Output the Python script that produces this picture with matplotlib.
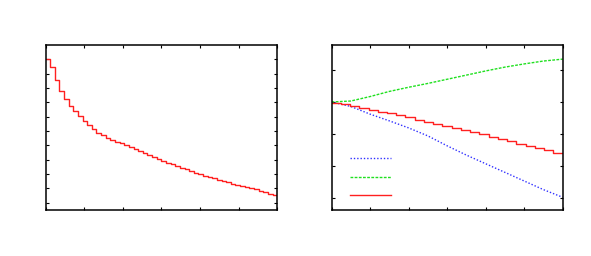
import numpy as np
import matplotlib
matplotlib.use("Agg")
import matplotlib.pyplot as plt

# left panel: staircase, 50 steps over x = 0..6
step_vals = [10.00, 9.44, 8.56, 7.79, 7.21, 6.77, 6.40, 6.05, 5.72, 5.42,
             5.14, 4.89, 4.70, 4.55, 4.41, 4.27, 4.15, 4.03, 3.89, 3.75,
             3.61, 3.48, 3.34, 3.21, 3.07, 2.93, 2.80, 2.68, 2.55, 2.43,
             2.32, 2.21, 2.10, 2.01, 1.90, 1.80, 1.71, 1.61, 1.52, 1.43,
             1.34, 1.25, 1.17, 1.09, 1.00, 0.93, 0.84, 0.74, 0.64, 0.52]

# right panel
curve_x = [0, 0.5, 1, 1.5, 2, 2.5, 3, 3.5, 4, 4.5, 5, 5.5, 6]
blue_y = [0, -0.14, -0.38, -0.59, -0.81, -1.06, -1.37, -1.66, -1.93, -2.20, -2.47, -2.74, -2.98]
green_y = [0, 0.03, 0.17, 0.33, 0.46, 0.58, 0.71, 0.84, 0.97, 1.09, 1.19, 1.28, 1.34]
red_steps = [-0.02, -0.07, -0.13, -0.18, -0.24, -0.30, -0.36, -0.42, -0.48, -0.55,
             -0.62, -0.68, -0.75, -0.81, -0.88, -0.95, -1.01, -1.08, -1.15, -1.23,
             -1.30, -1.37, -1.44, -1.51, -1.59]

fig = plt.figure(figsize=(5.91, 2.56), dpi=100)
ax1 = fig.add_axes([0.077, 0.18, 0.392, 0.644])
ax2 = fig.add_axes([0.561, 0.18, 0.391, 0.644])


def style(ax):
    for s in ax.spines.values():
        s.set_linewidth(1.1)
    ax.tick_params(direction="in", length=2.5, width=0.8, top=True, right=True,
                   labelbottom=False, labelleft=False)


# left
xs = np.linspace(0, 6, len(step_vals) + 1)
ax1.step(xs, step_vals + [step_vals[-1]], where="post", color="#ff2020", lw=1)
ax1.set_xlim(0, 6)
ax1.set_ylim(-0.5, 11)
ax1.set_xticks(range(0, 7))
ax1.set_yticks(range(0, 11))
style(ax1)

# right
rx = np.linspace(0, 6, len(red_steps) + 1)
lb, = ax2.plot(curve_x, blue_y, color="#3030ff", lw=1, ls=(0, (1, 1.4)))
lg, = ax2.plot(curve_x, green_y, color="#20e020", lw=1, ls=(0, (2, 1)))
lr, = ax2.step(rx, red_steps + [red_steps[-1]], where="post", color="#ff2020", lw=1)
ax2.set_xlim(0, 6)
ax2.set_ylim(-3.375, 1.78)
ax2.set_xticks(range(0, 7))
ax2.set_yticks([-3, -2, -1, 0, 1])
style(ax2)
ax2.legend([lb, lg, lr], [" ", " ", " "], loc="lower left",
           bbox_to_anchor=(0.079, 0.042), frameon=False, fontsize=10,
           handlelength=2.95, handletextpad=0, labelspacing=0.33,
           borderpad=0, borderaxespad=0)

fig.savefig("out.png", dpi=100)
